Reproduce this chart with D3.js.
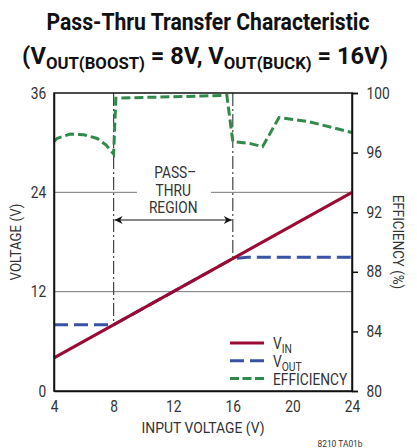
<!DOCTYPE html>
<html>
<head>
<meta charset="utf-8">
<script src="https://cdn.jsdelivr.net/npm/d3@7"></script>
<style>
body { margin: 0; background: #fff; }
svg { display: block; }
text { font-family: Roboto, "Liberation Sans", sans-serif; fill: #333; }
</style>
</head>
<body>
<svg width="417" height="448"></svg>
<script>
// input voltage (V) vs. VIN, VOUT and efficiency
var vinX = [4, 24];
var vinY = [4, 24];

var voutX = [4, 8, 16, 17, 24];
var voutY = [8, 8, 16, 16.15, 16.15];

var effX = [4, 4.2, 5.1, 6, 6.9, 7.5, 8, 8.15, 10, 12, 14, 15.6, 16, 17.2, 18, 19.1, 21, 24];
var effY = [96.75, 96.95, 97.25, 97.2, 96.95, 96.5, 95.9, 99.65, 99.7, 99.75, 99.8, 99.85, 96.75, 96.6, 96.4, 98.35, 98.1, 97.35];

var xTicks = [4, 8, 12, 16, 20, 24];
var vTicks = [0, 12, 24, 36];
var effTicks = [80, 84, 88, 92, 96, 100];
var passThru = [8, 16];

var svg = d3.select("svg");
var pLeft = 54, pRight = 352, pTop = 93, pBottom = 391;
var SX = 0.86; // horizontal squeeze to mimic a condensed face

var x = d3.scaleLinear().domain([4, 24]).range([pLeft, pRight]);
var y = d3.scaleLinear().domain([0, 36]).range([pBottom, pTop]);
var yEff = d3.scaleLinear().domain([80, 100]).range([pBottom, pTop]);

// text placed at (px,py), squeezed horizontally; optional rotation
function label(px, py, size, anchor, rot, sx) {
	var g = svg.append("g").attr("transform", "translate(" + px + "," + py + ")" + (rot ? " rotate(" + rot + ")" : ""));
	return g.append("text")
		.attr("transform", "scale(" + (sx || SX) + ",1)")
		.attr("text-anchor", anchor)
		.style("font-size", size + "px");
}

// fit a text to a given width by scaling it
function fit(t, w) {
	var len = t.node().getComputedTextLength();
	t.attr("transform", "scale(" + (w / len) + ",1)");
}

// title
var t1 = label(208, 30, 24, "middle").style("font-weight", "bold").style("fill", "#111")
	.text("Pass-Thru Transfer Characteristic");
fit(t1, 323);
var t2 = label(205, 64, 24, "middle").style("font-weight", "bold").style("fill", "#111");
t2.append("tspan").text("(V");
t2.append("tspan").attr("dy", 5).style("font-size", "17px").text("OUT(BOOST)");
t2.append("tspan").attr("dy", -5).text(" = 8V, V");
t2.append("tspan").attr("dy", 5).style("font-size", "17px").text("OUT(BUCK)");
t2.append("tspan").attr("dy", -5).text(" = 16V)");
fit(t2, 366);

// gridlines at 12 and 24 (24 has a gap for the label)
svg.append("line")
	.attr("x1", pLeft).attr("x2", pRight)
	.attr("y1", y(12)).attr("y2", y(12))
	.style("stroke", "#777").style("stroke-width", 1);
svg.append("line")
	.attr("x1", pLeft).attr("x2", 137)
	.attr("y1", y(24)).attr("y2", y(24))
	.style("stroke", "#777").style("stroke-width", 1);
svg.append("line")
	.attr("x1", 211).attr("x2", pRight)
	.attr("y1", y(24)).attr("y2", y(24))
	.style("stroke", "#777").style("stroke-width", 1);

// pass-thru boundaries
svg.selectAll(".bound")
	.data(passThru)
	.enter()
	.append("line")
	.attr("x1", (d) => x(d)).attr("x2", (d) => x(d))
	.attr("y1", pTop).attr("y2", (d) => y(d))
	.style("stroke", "#444")
	.style("stroke-width", 1.2)
	.style("stroke-dasharray", "13,3,2,3");

// arrow
var defs = svg.append("defs");
defs.append("marker")
	.attr("id", "ah")
	.attr("viewBox", "0 0 10 10")
	.attr("refX", 10).attr("refY", 5)
	.attr("markerWidth", 14).attr("markerHeight", 8)
	.attr("markerUnits", "userSpaceOnUse")
	.attr("orient", "auto-start-reverse")
	.append("path")
	.attr("d", "M0,0 L10,5 L0,10 L3,5 Z")
	.style("fill", "#111");
svg.append("line")
	.attr("x1", x(8) + 1).attr("x2", x(16) - 1)
	.attr("y1", 220).attr("y2", 220)
	.style("stroke", "#111").style("stroke-width", 1.2)
	.attr("marker-start", "url(#ah)")
	.attr("marker-end", "url(#ah)");

["PASS\u2013", "THRU", "REGION"].forEach(function (s, i) {
	label(x(12) + (i == 0 ? 2 : 0), 178 + i * 17.5, 16, "middle").text(s);
});

// lines
var line = d3.line().x((d) => x(d[0])).y((d) => y(d[1]));
var effLine = d3.line().x((d) => x(d[0])).y((d) => yEff(d[1]));

svg.append("path")
	.datum(effX.map((d, i) => [d, effY[i]]))
	.attr("d", effLine)
	.style("fill", "none")
	.style("stroke", "#2f8a4c")
	.style("stroke-width", 3)
	.style("stroke-dasharray", "9,4");

svg.append("path")
	.datum(voutX.map((d, i) => [d, voutY[i]]))
	.attr("d", line)
	.style("fill", "none")
	.style("stroke", "#3a52a6")
	.style("stroke-width", 3)
	.style("stroke-dasharray", "14,6");

svg.append("path")
	.datum(vinX.map((d, i) => [d, vinY[i]]))
	.attr("d", line)
	.style("fill", "none")
	.style("stroke", "#9c0a34")
	.style("stroke-width", 3);

// frame
svg.append("rect")
	.attr("x", pLeft).attr("y", pTop)
	.attr("width", pRight - pLeft).attr("height", pBottom - pTop)
	.style("fill", "none")
	.style("stroke", "#111")
	.style("stroke-width", 1.5);

// axes
var ax = svg.append("g")
	.attr("transform", "translate(0," + pBottom + ")")
	.call(d3.axisBottom(x).tickValues(xTicks).tickSize(0).tickPadding(10).tickFormat(d3.format("d")));
var ay = svg.append("g")
	.attr("transform", "translate(" + pLeft + ",0)")
	.call(d3.axisLeft(y).tickValues(vTicks).tickSize(0).tickPadding(9));
var ae = svg.append("g")
	.attr("transform", "translate(" + pRight + ",0)")
	.call(d3.axisRight(yEff).tickValues(effTicks).tickSize(6).tickPadding(11));

[ax, ay, ae].forEach(function (a) {
	a.select(".domain").style("stroke", "#111").style("stroke-width", 1.5);
	a.selectAll(".tick line").style("stroke", "#111").style("stroke-width", 1.5);
	a.selectAll("text")
		.attr("transform", "scale(" + SX + ",1)")
		.style("font-family", "Roboto, 'Liberation Sans', sans-serif")
		.style("font-size", "16px")
		.style("fill", "#333");
});

// axis titles
label(21, (pTop + pBottom) / 2, 15.5, "middle", -90).text("VOLTAGE (V)");
label(393, (pTop + pBottom) / 2, 15.5, "middle", 90).text("EFFICIENCY (%)");
fit(label(203, 433, 15.5, "middle").text("INPUT VOLTAGE (V)"), 123);
fit(label(340, 447, 9, "middle").text("8210 TA01b"), 45);

// legend
var legend = [
	{ name: "V", sub: "IN", color: "#9c0a34", dash: null },
	{ name: "V", sub: "OUT", color: "#3a52a6", dash: "14,6" },
	{ name: "EFFICIENCY", sub: "", color: "#2f8a4c", dash: "9,3.5" }
];
var lg = svg.append("g")
	.selectAll("g")
	.data(legend)
	.enter()
	.append("g")
	.attr("transform", (d, i) => "translate(230," + (343 + i * 17.8) + ")");
lg.append("line")
	.attr("x1", 0).attr("x2", 34)
	.style("stroke", (d) => d.color)
	.style("stroke-width", 3)
	.style("stroke-dasharray", (d) => d.dash);
var lt = lg.append("g")
	.attr("transform", "translate(43,6)")
	.append("text")
	.attr("transform", "scale(" + SX + ",1)")
	.style("font-size", "16px");
lt.append("tspan").text((d) => d.name);
lt.append("tspan").attr("dy", 4).style("font-size", "12px").text((d) => d.sub);
</script>
</body>
</html>
